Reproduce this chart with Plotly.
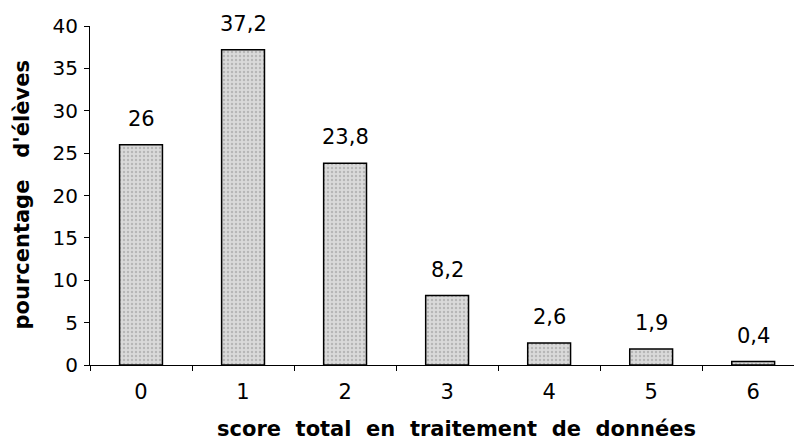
import plotly.graph_objects as go

# Score distribution
scores = ["0", "1", "2", "3", "4", "5", "6"]
percentages = [26, 37.2, 23.8, 8.2, 2.6, 1.9, 0.4]
y_ticks = [0, 5, 10, 15, 20, 25, 30, 35, 40]

labels = [f"{v:g}".replace(".", ",") for v in percentages]
FONT = "DejaVu Sans, Arial"
NB = "\u00a0"

fig = go.Figure()
fig.add_trace(go.Bar(
    x=scores,
    y=percentages,
    width=0.42,
    marker=dict(
        color="#d2d2d2",
        line=dict(color="black", width=1.5),
        pattern=dict(shape=".", fgcolor="#939393", bgcolor="#dadada",
                     size=4, solidity=0.3),
    ),
    hoverinfo="skip",
))

for s, v, t in zip(scores, percentages, labels):
    fig.add_annotation(x=s, y=v, text=t, showarrow=False,
                       yanchor="bottom", yshift=12,
                       font=dict(family=FONT, size=21, color="black"))

# axis titles
fig.add_annotation(xref="paper", yref="paper", x=0.52, y=-0.19,
                   xanchor="center", yanchor="middle", showarrow=False,
                   text="<b>" + (NB * 2).join(["score", "total", "en", "traitement", "de", "données"]) + "</b>",
                   font=dict(family=FONT, size=21, color="black"))
fig.add_annotation(xref="paper", yref="paper", x=-0.098, y=0.5,
                   xanchor="center", yanchor="middle", showarrow=False, textangle=-90,
                   text="<b>pourcentage" + NB * 3 + "d'élèves</b>",
                   font=dict(family=FONT, size=21, color="black"))

fig.update_layout(
    width=794, height=446,
    margin=dict(l=90, r=0, t=26, b=81),
    paper_bgcolor="white", plot_bgcolor="white",
    showlegend=False,
    font=dict(family=FONT, size=19, color="black"),
)
fig.update_xaxes(
    type="category",
    range=[-0.5, 6.4],
    tickson="boundaries",
    ticks="outside", ticklen=5, tickcolor="black",
    showline=True, linecolor="black", linewidth=1,
    showgrid=False, zeroline=False,
    tickfont=dict(size=21),
    ticklabelstandoff=8,
)
fig.update_yaxes(
    range=[0, 40],
    tickvals=y_ticks,
    ticks="outside", ticklen=5, tickcolor="black",
    showline=True, linecolor="black", linewidth=1,
    showgrid=False, zeroline=False,
    tickfont=dict(size=20),
    ticklabelstandoff=2,
)

fig.write_html("out.html")
